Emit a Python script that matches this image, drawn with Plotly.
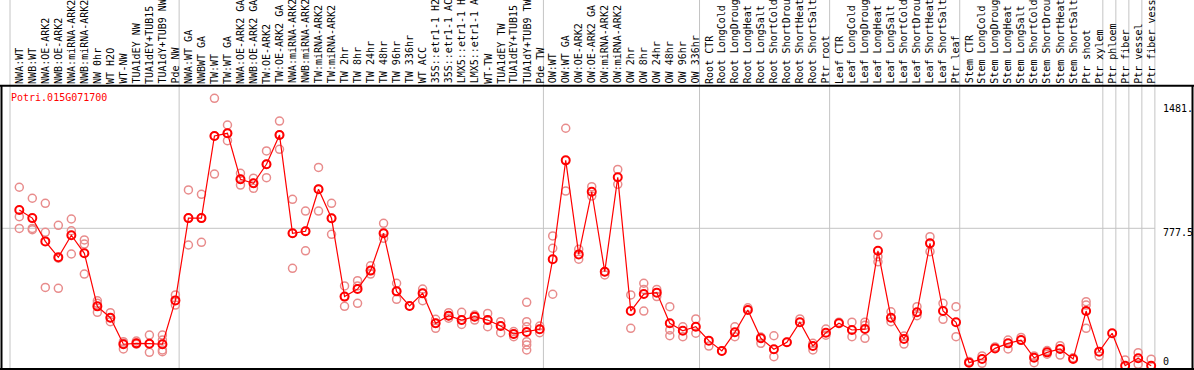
import plotly.graph_objects as go

gene = "Potri.015G071700"

labels = [
    "NWA:WT", "NWB:WT", "NWA:OE-ARK2", "NWB:OE-ARK2", "NWA:miRNA-ARK2", "NWB:miRNA-ARK2",
    "NW 0hr", "WT H2O", "WT-NW", "TUA1dEY NW", "TUA1dEY+TUB15", "TUA1dY+TUB9 NW", "Pde NW",
    "NWA:WT GA", "NWBWT GA", "TW:WT", "TW:WT GA", "NWA:OE-ARK2 GA", "NWB:OE-ARK2 GA",
    "TW:OE-ARK2", "TW:OE-ARK2 GA", "NWA:miRNA-ARK2", "NWB:miRNA-ARK2", "TW:miRNA-ARK2",
    "TW:miRNA-ARK2", "TW 2hr", "TW 8hr", "TW 24hr", "TW 48hr", "TW 96hr", "TW 336hr",
    "WT ACC", "35S::etr1-1 H2", "35S::etr1-1 AC", "LMX5::etr1-1 H", "LMX5::etr1-1 A",
    "WT-TW", "TUA1dEY TW", "TUA1dEY+TUB15", "TUA1dY+TUB9 TW", "Pde TW",
    "OW:WT", "OW:WT GA", "OW:OE-ARK2", "OW:OE-ARK2 GA", "OW:miRNA-ARK2", "OW:miRNA-ARK2",
    "OW 2hr", "OW 8hr", "OW 24hr", "OW 48hr", "OW 96hr", "OW 336hr",
    "Root CTR", "Root LongCold", "Root LongDroug", "Root LongHeat", "Root LongSalt",
    "Root ShortCold", "Root ShortDrou", "Root ShortHeat", "Root ShortSalt", "Ptr root",
    "Leaf CTR", "Leaf LongCold", "Leaf LongDroug", "Leaf LongHeat", "Leaf LongSalt",
    "Leaf ShortCold", "Leaf ShortDrou", "Leaf ShortHeat", "Leaf ShortSalt", "Ptr leaf",
    "Stem CTR", "Stem LongCold", "Stem LongDroug", "Stem LongHeat", "Stem LongSalt",
    "Stem ShortCold", "Stem ShortDrou", "Stem ShortHeat", "Stem ShortSalt", "Ptr shoot",
    "Ptr xylem", "Ptr phloem", "Ptr fiber", "Ptr vessel", "Ptr fiber vess",
]

means = [
    879, 834, 705, 617, 739, 639, 345, 282, 135, 140, 138, 135, 378,
    834, 834, 1289, 1304, 1049, 1027, 1132, 1295, 750, 761, 994, 833, 399, 441, 543,
    750, 428, 347, 417, 251, 293, 269, 288, 269, 236, 192, 203, 218,
    606, 1154, 633, 980, 537, 1060, 319, 413, 421, 251, 210, 232,
    155, 98, 201, 325, 168, 107, 146, 257, 125, 199,
    251, 214, 219, 653, 282, 164, 312, 694, 319, 257,
    33, 53, 112, 140, 158, 60, 90, 109, 53, 319, 94,
    196, 16, 57, 16,
]

replicates = [
    [1005, 842, 777], [944, 777, 770], [916, 755, 450], [794, 612, 445],
    [829, 764, 635], [713, 690, 524], [376, 362, 312], [310, 282, 260],
    [149, 140, 109], [153, 140, 135], [186, 138, 90], [186, 158, 103, 94],
    [408, 378, 352],
    [990, 834, 685], [966, 834, 700], [1498, 1289, 1078], [1350, 1304, 1263],
    [1082, 1049, 1017], [1055, 1027, 999], [1206, 1132, 1058], [1372, 1295, 1215],
    [938, 750, 556], [873, 761, 653], [1115, 994, 873], [916, 833, 744],
    [458, 399, 345], [487, 458, 362], [570, 543, 524], [805, 750, 722],
    [473, 428, 384], [347], [441, 417, 376], [273, 251, 223], [310, 293, 279],
    [312, 269, 245], [297, 288, 269], [306, 269, 232], [260, 236, 199],
    [205, 192, 177], [367, 260, 232, 149, 131, 103], [236, 218, 199],
    [735, 667, 412], [1332, 984], [661, 606], [1008, 956], [537, 519],
    [1104, 1021], [408, 223], [473, 439, 319], [439, 399], [343, 214, 182],
    [232, 177], [275, 196],
    [125], [98], [232, 177], [337], [140, 175], [182, 66], [146], [275],
    [103, 140], [219, 185],
    [257], [257, 177], [257, 168, 240], [740, 620, 592], [315, 260], [136, 180],
    [343, 293], [731, 648], [362, 273], [343, 177],
    [40], [70, 29], [120], [158, 109], [173], [70, 33], [100, 80], [127, 75],
    [60], [371, 352, 223], [70],
    [], [48], [88, 24], [52],
]

y_tick_texts = ["1481.", "777.5", "0"]
grid_value = 777.5
group_starts = [0, 13, 41, 53, 63, 73, 84, 85, 86, 87, 88]

# pixel <-> data helpers (layout only)
X0, DX = 19.3, 13.01
Y0, DY = 368.6, 0.18045
W, H = 1194, 370


def px2x(px):
    return (px - X0) / DX


def py2y(py):
    return (Y0 - py) / DY


n = len(labels)
xs = list(range(n))
rx, ry = [], []
for i, reps in enumerate(replicates):
    for v in reps:
        rx.append(i)
        ry.append(v)

fig = go.Figure()
fig.add_trace(go.Scatter(
    x=rx, y=ry, mode="markers", hoverinfo="skip",
    marker=dict(symbol="circle-open", size=8, color="rgb(232,140,140)",
                line=dict(width=1.5, color="rgb(232,140,140)")),
    showlegend=False))
fig.add_trace(go.Scatter(
    x=xs, y=means, mode="lines+markers",
    line=dict(color="#ff0000", width=1.2),
    marker=dict(symbol="circle-open", size=8, color="#ff0000",
                line=dict(width=2, color="#ff0000")),
    showlegend=False))

shapes = []
for k in group_starts:
    xv = px2x(10 + DX * k)
    shapes.append(dict(type="line", xref="x", yref="y", x0=xv, x1=xv,
                       y0=py2y(0), y1=py2y(369), line=dict(color="#c4c4c4", width=1),
                       layer="below"))
shapes.append(dict(type="line", xref="x", yref="y", x0=px2x(2), x1=px2x(1155),
                   y0=grid_value, y1=grid_value, line=dict(color="#c4c4c4", width=1),
                   layer="below"))
shapes.append(dict(type="line", xref="x", yref="y", x0=px2x(0), x1=px2x(W),
                   y0=py2y(85.7), y1=py2y(85.7), line=dict(color="black", width=2)))
shapes.append(dict(type="line", xref="x", yref="y", x0=px2x(0), x1=px2x(W),
                   y0=py2y(369), y1=py2y(369), line=dict(color="black", width=2)))
shapes.append(dict(type="line", xref="x", yref="y", x0=px2x(1.5), x1=px2x(1.5),
                   y0=py2y(85.7), y1=py2y(369), line=dict(color="black", width=2)))
shapes.append(dict(type="line", xref="x", yref="y", x0=px2x(1192.5), x1=px2x(1192.5),
                   y0=py2y(85.7), y1=py2y(369), line=dict(color="black", width=2)))

font = dict(family="DejaVu Sans Mono", size=10, color="black")
annotations = []
for i, lab in enumerate(labels):
    annotations.append(dict(x=i, y=py2y(84.6), xref="x", yref="y", text=lab,
                            textangle=-90, xanchor="center", yanchor="bottom",
                            showarrow=False, font=font, borderpad=0))
annotations.append(dict(x=px2x(10), y=py2y(97), xref="x", yref="y", text=gene,
                        xanchor="left", yanchor="middle", showarrow=False,
                        font=dict(family="DejaVu Sans Mono", size=10, color="#ff0000"),
                        borderpad=0))
for txt, cy in zip(y_tick_texts, [108, 232.7, 361.7]):
    annotations.append(dict(x=px2x(1162), y=py2y(cy), xref="x", yref="y", text=txt,
                            xanchor="left", yanchor="middle", showarrow=False,
                            font=font, borderpad=0))

fig.update_layout(
    width=W, height=H, autosize=False,
    margin=dict(l=0, r=0, t=0, b=0, pad=0),
    paper_bgcolor="white", plot_bgcolor="white",
    xaxis=dict(range=[px2x(0), px2x(W)], visible=False, fixedrange=True),
    yaxis=dict(range=[py2y(H), py2y(0)], visible=False, fixedrange=True),
    shapes=shapes, annotations=annotations, showlegend=False,
)

fig.write_html(
    "out.html",
    config={"displayModeBar": False, "staticPlot": True},
    post_script="document.body.style.margin='0';document.body.style.overflow='hidden';",
)
